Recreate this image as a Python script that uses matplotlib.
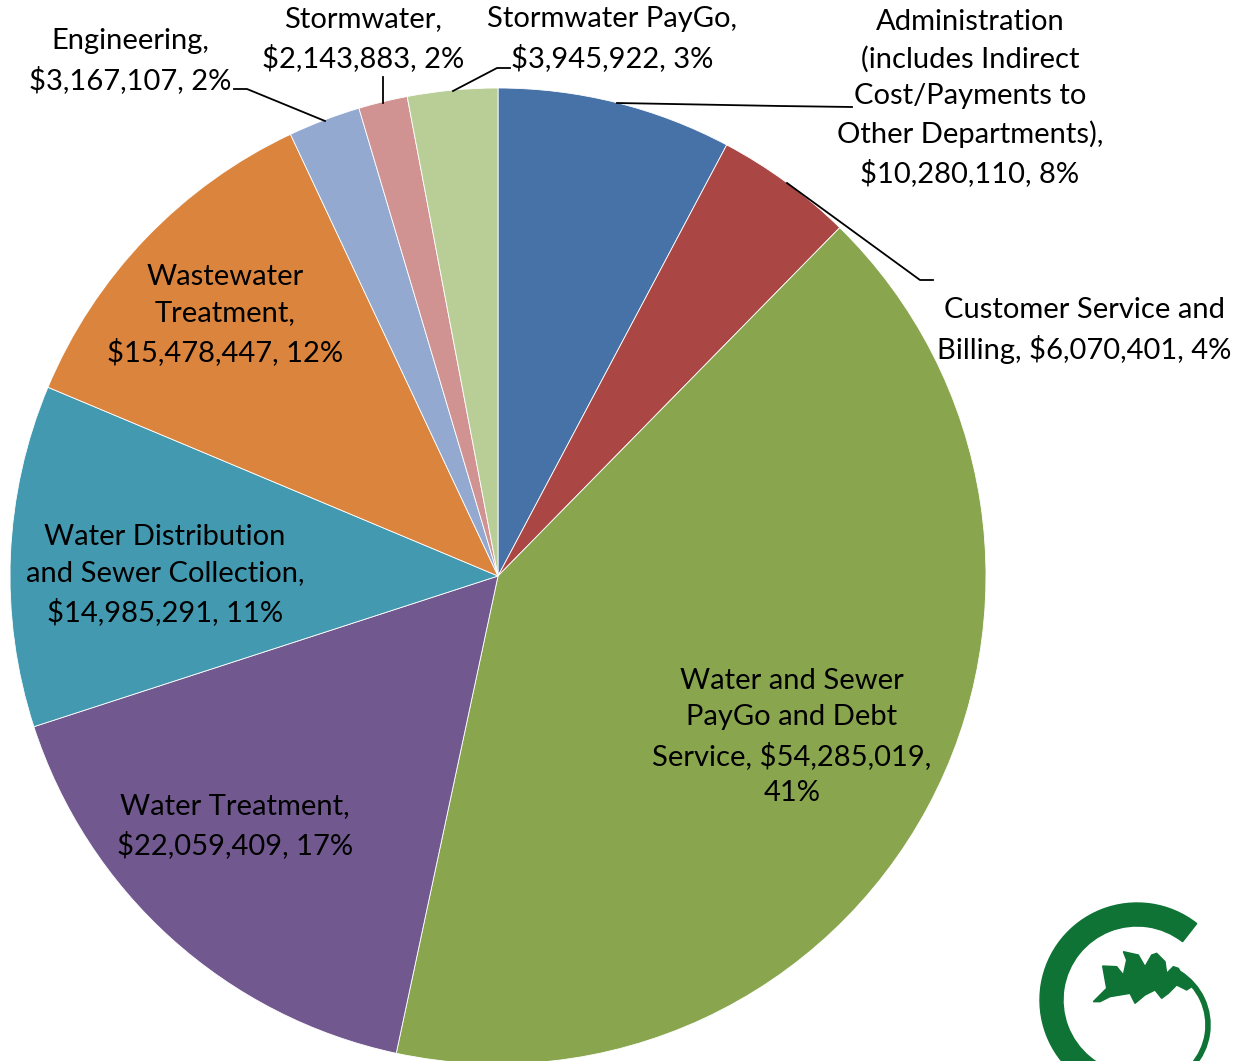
import numpy as np
import matplotlib.pyplot as plt
from matplotlib.patches import Wedge, Arc, Polygon

plt.rcParams['font.family'] = ['Lato', 'DejaVu Sans']

# budget by division, clockwise from 12 o'clock
labels = [
    "Administration\n(includes Indirect\nCost/Payments to\nOther Departments),\n$10,280,110, 8%",
    "Customer Service and\nBilling, $6,070,401, 4%",
    "Water and Sewer\nPayGo and Debt\nService, $54,285,019,\n41%",
    "Water Treatment,\n$22,059,409, 17%",
    "Water Distribution\nand Sewer Collection,\n$14,985,291, 11%",
    "Wastewater\nTreatment,\n$15,478,447, 12%",
    "Engineering,\n$3,167,107, 2%",
    "Stormwater,\n$2,143,883, 2%",
    "Stormwater PayGo,\n$3,945,922, 3%",
]
amounts = [10280110, 6070401, 54285019, 22059409, 14985291,
           15478447, 3167107, 2143883, 3945922]
colors = ["#4672A8", "#AA4744", "#89A54E", "#71598F", "#4299B0",
          "#DB843D", "#93A9D0", "#D19392", "#B9CE96"]

W, H = 1247, 1061


def px(x, y):
    # image pixel (y down) -> data coords
    return x, H - y


fig = plt.figure(figsize=(W / 100, H / 100), dpi=100)
ax = fig.add_axes([0, 0, 1, 1])
ax.set_xlim(0, W)
ax.set_ylim(0, H)
ax.set_aspect('equal')
ax.axis('off')

ax.pie(amounts, colors=colors, startangle=90, counterclock=False,
       center=px(498, 576), radius=488,
       wedgeprops=dict(edgecolor='white', linewidth=0.6))
ax.set_xlim(0, W)
ax.set_ylim(0, H)

# label centres (pixels)
label_pos = [(970, 98), (1084, 330), (792, 737), (235, 826), (165, 575),
             (225, 315), (130, 61), (363, 39), (612, 39)]
for txt, (x, y) in zip(labels, label_pos):
    ax.text(*px(x, y), txt, ha='center', va='center', fontsize=21,
            linespacing=1.5, color='black')

# leader lines
leaders = [
    [(617, 103), (780, 106), (852, 107)],
    [(787, 183), (920, 280), (933, 280)],
    [(234, 89), (247, 89), (325, 121)],
    [(383, 77), (383, 103)],
    [(453, 91), (497, 68), (510, 68)],
]
for pts in leaders:
    xs, ys = zip(*[px(a, b) for a, b in pts])
    ax.plot(xs, ys, color='black', lw=1.3)

# logo
green = "#0E7335"
ax.add_patch(Wedge(px(1137, 1000), 97, 52, 290, width=23, color=green))
ax.add_patch(Arc(px(1147, 1025), 122, 122, theta1=-75, theta2=58,
                 color=green, lw=4))
leaf = [(40, 185), (80, 145), (68, 78), (110, 80), (130, 105), (140, 60),
        (130, 35), (175, 45), (195, 80), (215, 45), (230, 40), (255, 65),
        (260, 100), (280, 80), (295, 85), (310, 110), (335, 140), (320, 150),
        (290, 135), (265, 160), (245, 175), (225, 150), (195, 165), (165, 190),
        (150, 160), (120, 165), (90, 170), (60, 185)]
ax.add_patch(Polygon([px(1080 + a / 3, 940 + b / 3) for a, b in leaf],
                     closed=True, color=green))

fig.savefig("out.png", dpi=100)
